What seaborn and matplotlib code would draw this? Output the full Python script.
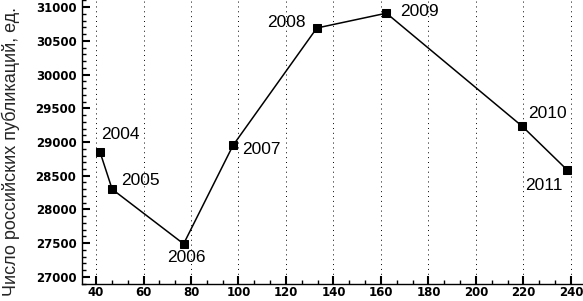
import matplotlib
matplotlib.use("Agg")
import matplotlib.pyplot as plt
import seaborn as sns
import pandas as pd
from matplotlib.ticker import MultipleLocator, AutoMinorLocator

years = ["2004", "2005", "2006", "2007", "2008", "2009", "2010", "2011"]
x_vals = [41.7, 46.8, 76.9, 97.7, 133.0, 162.3, 219.6, 238.3]
y_vals = [28850, 28300, 27490, 28950, 30690, 30910, 29230, 28590]
# label offsets in pixels (dx, dy)
offsets = [(20, 18), (28, 9), (3, -14), (28, -4), (-30, 6), (33, 2), (25, 13), (-23, -16)]
x_ticks = [40, 60, 80, 100, 120, 140, 160, 180, 200, 220, 240]
y_ticks = [27000, 27500, 28000, 28500, 29000, 29500, 30000, 30500, 31000]
ylabel = "Число российских публикаций, ед."

sns.set_style("ticks")
plt.rcParams['font.family'] = ['Liberation Sans', 'DejaVu Sans']

df = pd.DataFrame({"x": x_vals, "y": y_vals})

fig = plt.figure(figsize=(5.83, 3.01), dpi=100)
ax = fig.add_axes([82/583, 17/301, 1 - 82/583 + 0.02, 1 - 17/301 + 0.01])

sns.lineplot(data=df, x="x", y="y", ax=ax, color="black", linewidth=1.1,
             marker="s", markersize=6, markeredgecolor="black", markerfacecolor="black",
             sort=False)

for lab, xv, yv, (dx, dy) in zip(years, x_vals, y_vals, offsets):
    ax.annotate(lab, (xv, yv), xytext=(dx, dy), textcoords="offset pixels",
                ha="center", va="center", fontsize=12.5, color="black")

ax.set_xlim(34.1, 250)
ax.set_ylim(26895, 31150)
ax.set_xticks(x_ticks)
ax.set_yticks(y_ticks)
ax.xaxis.set_minor_locator(AutoMinorLocator(3))
ax.yaxis.set_minor_locator(MultipleLocator(100))
ax.tick_params(axis="both", which="major", direction="in", length=6, width=1.5,
               color="black", labelcolor="black")
ax.tick_params(axis="both", which="minor", direction="in", length=3, width=1, color="black")
ax.tick_params(axis="y", pad=4)
ax.tick_params(axis="x", pad=1.5)
for lbl in ax.get_xticklabels() + ax.get_yticklabels():
    lbl.set_fontweight("bold")
    lbl.set_fontfamily("DejaVu Sans")
    lbl.set_fontsize(8.5)

ax.grid(axis="x", which="major", color="black", linestyle=(0, (1, 4)), linewidth=0.7)
for s in ["top", "right"]:
    ax.spines[s].set_visible(False)
for s in ["left", "bottom"]:
    ax.spines[s].set_linewidth(1.0)
    ax.spines[s].set_color("black")

ax.set_xlabel("")
ax.set_ylabel(ylabel, fontsize=13, va="center")
ax.yaxis.set_label_coords(11/583, (301 - 151)/301, transform=fig.transFigure)

fig.savefig("out.png", dpi=100)
